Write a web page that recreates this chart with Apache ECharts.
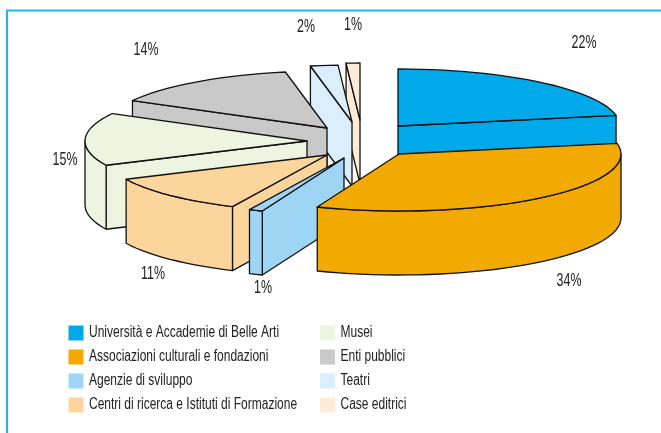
<!DOCTYPE html>
<html>
<head>
<meta charset="utf-8">
<style>html,body{margin:0;padding:0;background:#fff}#c{width:661px;height:433px}</style>
<script src="https://cdn.jsdelivr.net/npm/echarts@6/dist/echarts.min.js"></script>
</head>
<body>
<div id="c"></div>
<script>
// Data
const categories = ['Università e Accademie di Belle Arti','Associazioni culturali e fondazioni','Agenzie di sviluppo','Centri di ricerca e Istituti di Formazione','Musei','Enti pubblici','Teatri','Case editrici'];
const shares = [22,34,1,11,15,14,2,1];
// Styles and layout (kept apart from the data)
const colors = ['#00a9ea','#f2a900','#9fd5f4','#fbd59b','#edf4df','#c9c9c9','#daeefc','#feebd7'];
const zByCategory = [5,8,7,6,4,3,2,1];
const pie = {cx:356, cy:139, rx:222, ry:57, depth:64};
const explodeX = [42,43,-12,-29,-49,-29,-4,4];
const explodeY = [-13,15,19,16,2,-11,-17,-19];
const labelX = [584,569,263,153,65,146,306,353];
const labelY = [43,281,288,274,160,50,27,25];

const total = shares.reduce((a,b)=>a+b,0);
const FONT = '"Liberation Sans",sans-serif';
const SQUEEZE = 0.75;

function rim(ax,ay,deg){
  const t = deg*Math.PI/180;
  return [ax+pie.rx*Math.sin(t), ay-pie.ry*Math.cos(t)];
}
function arcPts(ax,ay,a0,a1){
  const out=[], n=Math.max(2,Math.ceil(Math.abs(a1-a0)/3));
  for(let i=0;i<=n;i++) out.push(rim(ax,ay,a0+(a1-a0)*i/n));
  return out;
}
function renderSlice(idx){
  return function(params, api){
    const before = shares.slice(0,idx).reduce((a,b)=>a+b,0);
    const a0 = before/total*360;
    const a1 = a0+api.value(0)/total*360;
    const ax = pie.cx+explodeX[idx], ay = pie.cy+explodeY[idx];
    const style = {fill:colors[idx], stroke:'#111', lineWidth:1.3, lineJoin:'round'};
    const drop = p=>[p[0],p[1]+pie.depth];
    const kids=[];
    const poly = pts=>kids.push({type:'polygon',shape:{points:pts},style});
    const apex=[ax,ay], p0=rim(ax,ay,a0), p1=rim(ax,ay,a1);
    // only the walls that face the viewer are drawn
    if(Math.sin(a0*Math.PI/180)<-1e-6) poly([apex,p0,drop(p0),drop(apex)]);
    if(Math.sin(a1*Math.PI/180)>1e-6) poly([apex,p1,drop(p1),drop(apex)]);
    const lo=Math.max(a0,90), hi=Math.min(a1,270);
    if(hi>lo){
      const arc=arcPts(ax,ay,lo,hi);
      poly(arc.concat(arc.slice().reverse().map(drop)));
    }
    poly([apex].concat(arcPts(ax,ay,a0,a1)));
    kids.push({type:'text',x:labelX[idx],y:labelY[idx],scaleX:0.69,style:{text:api.value(0)+'%',x:0,y:0,
      align:'center',verticalAlign:'middle',fill:'#222',font:'18px '+FONT}});
    return {type:'group',children:kids};
  };
}
const series = categories.map((name,i)=>({
  type:'custom', name, coordinateSystem:'none', silent:true, animation:false,
  z:zByCategory[i], itemStyle:{color:colors[i]},
  data:[[shares[i]]], renderItem:renderSlice(i)
}));
const legendCols = [68.5,320], legendTop = 333, legendStep = 24, legendRows = 4;
const legendItems = [];
categories.forEach((name,i)=>{
  const col = legendCols[Math.floor(i/legendRows)];
  const y = legendTop+(i%legendRows)*legendStep;
  legendItems.push({type:'rect',silent:true,shape:{x:col,y:y-7.5,width:15,height:15},style:{fill:colors[i]}});
  legendItems.push({type:'text',silent:true,x:col+20.5,y:y,scaleX:SQUEEZE,
    style:{text:name,x:0,y:0,align:'left',verticalAlign:'middle',fill:'#222',font:'16px '+FONT}});
});
const chart = echarts.init(document.getElementById('c'),null,{renderer:'canvas'});
chart.setOption({
  animation:false,
  backgroundColor:'#fff',
  graphic:[{type:'polyline',silent:true,shape:{points:[[7,433],[7,10.5],[661,10.5]]},style:{fill:null,stroke:'#1bb8f5',lineWidth:2}}].concat(legendItems),
  series
});
</script>
</body>
</html>
